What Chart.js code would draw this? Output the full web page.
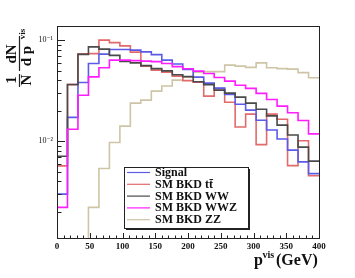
<!DOCTYPE html>
<html>
<head>
<meta charset="utf-8">
<script src="https://cdn.jsdelivr.net/npm/chart.js@4.4.1/dist/chart.umd.min.js"></script>
<style>
  body { margin: 0; background: #fff; }
</style>
</head>
<body>
<canvas id="pvisChart" width="355" height="278"></canvas>
<script>
// p_vis distributions, normalised, 16 GeV bins from 0 to 400 GeV
const binEdges = [0, 16, 32, 48, 64, 80, 96, 112, 128, 144, 160, 176, 192, 208,
                  224, 240, 256, 272, 288, 304, 320, 336, 352, 368, 384, 400];

const signal = [0.00299, 0.0172, 0.0381, 0.0588, 0.0727, 0.0809, 0.0809, 0.0796, 0.0766, 0.0719,
                0.0634, 0.0581, 0.0513, 0.0430, 0.0375, 0.0335, 0.0290, 0.0232, 0.0203, 0.0161,
                0.0129, 0.0105, 0.00815, 0.00624, 0.00477];
const bkdTT = [0.00569, 0.0363, 0.0732, 0.0735, 0.100, 0.0944, 0.0878, 0.0761, 0.0553, 0.0505,
               0.0482, 0.0440, 0.0397, 0.0384, 0.0279, 0.0331, 0.0243, 0.0138, 0.0185, 0.00923,
               0.0185, 0.0165, 0.00572, 0.0101, 0.00455];
const bkdWW = [0.0071, 0.0364, 0.0722, 0.0858, 0.0815, 0.0706, 0.0615, 0.0596, 0.0559, 0.0522,
               0.0496, 0.0455, 0.0435, 0.0387, 0.0363, 0.0320, 0.0299, 0.0273, 0.0238, 0.0207,
               0.0178, 0.0144, 0.0115, 0.00873, 0.00634];
const bkdWWZ = [0.00221, 0.0131, 0.0285, 0.0433, 0.0532, 0.0634, 0.0634, 0.0627, 0.0620, 0.0612,
                0.0588, 0.0547, 0.0520, 0.0493, 0.0468, 0.0427, 0.0393, 0.0358, 0.0333, 0.0297,
                0.0258, 0.0222, 0.0191, 0.0160, 0.0118];
// first three ZZ bins are empty (below the axis)
const bkdZZ = [0.0004, 0.0004, 0.0004, 0.00221, 0.00537, 0.00971, 0.0141, 0.0238, 0.0255, 0.0313,
               0.0351, 0.0402, 0.0430, 0.0482, 0.0488, 0.0488, 0.0566, 0.0553, 0.0537, 0.0596,
               0.0532, 0.0522, 0.0516, 0.0477, 0.0424];

const seriesLabels = ['Signal', 'SM BKD t\u0074\u0304', 'SM BKD WW', 'SM BKD WWZ', 'SM BKD ZZ'];
const seriesColors = ['#5b5be8', '#e26a6a', '#4a4a4a', '#ff1cff', '#cdc5a6'];

const xTicks = [0, 50, 100, 150, 200, 250, 300, 350, 400];
const yTicks = [0.01, 0.1];
const yTickLabels = ['10\u207B\u00B2', '10\u207B\u00B9'];
const yMin = 0.0011;
const yMax = 0.138;

const SERIF = '"Liberation Serif", "DejaVu Serif", serif';

// histogram as step line: one point per left bin edge plus the closing edge
function toSteps(values) {
    const pts = values.map((v, i) => ({ x: binEdges[i], y: v }));
    pts.push({ x: binEdges[binEdges.length - 1], y: values[values.length - 1] });
    return pts;
}

function rotText(ctx, text, cx, cy, font) {
    ctx.save();
    ctx.translate(cx, cy);
    ctx.rotate(-Math.PI / 2);
    ctx.font = font;
    ctx.textAlign = 'center';
    ctx.textBaseline = 'middle';
    ctx.fillText(text, 0, 0);
    ctx.restore();
}

const rootFrame = {
    id: 'rootFrame',
    afterDatasetsDraw(chart) {
        const ctx = chart.ctx;
        const a = chart.chartArea;
        const xs = chart.scales.x;
        const ys = chart.scales.y;
        ctx.save();
        ctx.strokeStyle = '#222';
        ctx.lineWidth = 1;

        // frame
        ctx.strokeRect(Math.round(a.left) + 0.5, Math.round(a.top) + 0.5,
                       Math.round(a.right - a.left), Math.round(a.bottom - a.top));

        // x ticks, drawn inside
        ctx.beginPath();
        for (let v = 0; v <= 400; v += 10) {
            const px = Math.round(xs.getPixelForValue(v)) + 0.5;
            const len = v % 50 === 0 ? 5 : 2.5;
            ctx.moveTo(px, a.bottom);
            ctx.lineTo(px, a.bottom - len);
        }
        // y ticks (log), drawn inside
        for (let dec = 0.001; dec < 1; dec *= 10) {
            for (let m = 1; m <= 9; m++) {
                const v = dec * m;
                if (v < yMin || v > yMax) continue;
                const py = Math.round(ys.getPixelForValue(v)) + 0.5;
                const len = m === 1 ? 8 : 4.5;
                ctx.moveTo(a.left, py);
                ctx.lineTo(a.left + len, py);
            }
        }
        ctx.stroke();

        // y title: 1/N dN/dp^vis
        ctx.fillStyle = '#111';
        const big = 'bold 15px ' + SERIF;
        rotText(ctx, '1', 12.5, 80, big);
        rotText(ctx, 'N', 27, 80, big);
        rotText(ctx, 'dN', 12.5, 54, big);
        rotText(ctx, 'd p', 27.5, 56, big);
        rotText(ctx, 'vis', 22.5, 34, 'bold 9px ' + SERIF);
        ctx.beginPath();
        ctx.lineWidth = 1.2;
        ctx.moveTo(19.5, 74); ctx.lineTo(19.5, 87);
        ctx.moveTo(19.5, 36); ctx.lineTo(19.5, 71);
        ctx.stroke();

        // x title: p^vis (GeV)
        ctx.textAlign = 'left';
        ctx.textBaseline = 'alphabetic';
        ctx.font = 'bold 16px ' + SERIF;
        ctx.fillText('p', 254, 265);
        ctx.font = 'bold 10px ' + SERIF;
        ctx.fillText('vis', 262.5, 258);
        ctx.font = 'bold 16px ' + SERIF;
        ctx.fillText('(GeV)', 276, 265);

        // legend box with shadow
        const lx = 124, ly = 167, lw = 124, lh = 61;
        ctx.fillStyle = '#222';
        ctx.fillRect(lx + 2, ly + 2, lw, lh);
        ctx.fillStyle = '#fff';
        ctx.fillRect(lx, ly, lw, lh);
        ctx.lineWidth = 1;
        ctx.strokeStyle = '#222';
        ctx.strokeRect(lx + 0.5, ly + 0.5, lw, lh);
        chart.data.datasets.forEach((ds, i) => {
            const ry = 172.5 + i * 11.8;
            ctx.strokeStyle = ds.borderColor;
            ctx.lineWidth = 1.2;
            ctx.beginPath();
            ctx.moveTo(127, ry);
            ctx.lineTo(150, ry);
            ctx.stroke();
            ctx.fillStyle = '#111';
            ctx.font = 'bold 12px ' + SERIF;
            ctx.textBaseline = 'middle';
            ctx.fillText(ds.label, 155, ry + 0.5);
        });
        ctx.restore();
    }
};

const datasets = [signal, bkdTT, bkdWW, bkdWWZ, bkdZZ].map((vals, i) => ({
    label: seriesLabels[i],
    data: toSteps(vals),
    borderColor: seriesColors[i],
    borderWidth: 1.6,
    stepped: true,
    pointRadius: 0,
    fill: false,
    order: [2, 3, 1, 0, 4][i]
}));

new Chart(document.getElementById('pvisChart').getContext('2d'), {
    type: 'line',
    data: { datasets: datasets },
    options: {
        responsive: false,
        animation: false,
        devicePixelRatio: 1,
        layout: { padding: { left: 0, top: 26, right: 36, bottom: 0 } },
        plugins: {
            legend: { display: false },
            tooltip: { enabled: false }
        },
        scales: {
            x: {
                type: 'linear',
                min: 0,
                max: 400,
                afterFit(scale) { scale.height = 40; },
                afterBuildTicks(scale) { scale.ticks = xTicks.map(v => ({ value: v })); },
                grid: { display: false, drawTicks: false },
                border: { display: false },
                ticks: {
                    padding: 3,
                    color: '#111',
                    maxRotation: 0,
                    font: { family: SERIF, size: 9, weight: 'bold' }
                }
            },
            y: {
                type: 'logarithmic',
                min: yMin,
                max: yMax,
                afterFit(scale) { scale.width = 57; },
                afterBuildTicks(scale) { scale.ticks = yTicks.map(v => ({ value: v })); },
                grid: { display: false, drawTicks: false },
                border: { display: false },
                ticks: {
                    padding: 4,
                    color: '#111',
                    font: { family: SERIF, size: 8 },
                    callback: (v) => yTickLabels[yTicks.indexOf(v)]
                }
            }
        }
    },
    plugins: [rootFrame]
});
</script>
</body>
</html>
